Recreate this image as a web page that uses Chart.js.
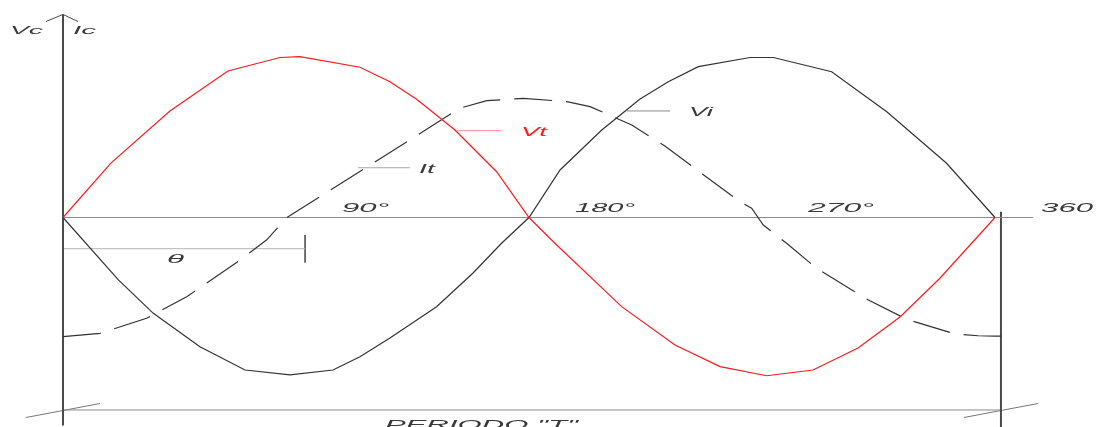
<!DOCTYPE html>
<html>
<head>
<meta charset="utf-8">
<script src="https://cdn.jsdelivr.net/npm/chart.js"></script>
<style>
  html, body { margin: 0; padding: 0; background: #fff; }
  canvas { display: block; }
</style>
</head>
<body>
<canvas id="waveChart" width="1096" height="427"></canvas>
<script>
// Wave data: angle in degrees, amplitude (peak of Vt = 1)
const vtDegrees = [0, 18.5, 41.3, 63.7, 83.8, 91.5, 114.7, 126.3, 136.6, 151.4, 167.5, 180, 190, 215.8, 236.4, 253.8, 271.8, 289.7, 307.1, 323.3, 338.8, 360];
const vtValues = [0, 0.34, 0.666, 0.916, 1.0, 1.005, 0.939, 0.849, 0.739, 0.547, 0.286, 0, -0.161, -0.557, -0.797, -0.932, -0.989, -0.953, -0.816, -0.622, -0.378, 0];

const viDegrees = [0, 21.4, 34.9, 52.9, 70.3, 87.7, 104.3, 114.7, 126.3, 144.3, 158.4, 169.4, 180, 192, 208.1, 222.9, 233.8, 245.4, 265.4, 274.4, 296.9, 318.2, 341.3, 360];
const viValues = [0, -0.39, -0.599, -0.808, -0.953, -0.984, -0.953, -0.87, -0.753, -0.558, -0.347, -0.161, 0, 0.297, 0.547, 0.741, 0.849, 0.943, 1.0, 1.0, 0.911, 0.661, 0.339, 0];

const itDegrees = [0, 14.3, 32.3, 47.8, 68.4, 78.6, 86.5, 153.3, 163.7, 177.8, 194.6, 203.6, 219.7, 232.5, 251.8, 262.1, 266, 270.5, 279.5, 291.1, 311.1, 325.9, 344.5, 353.5, 360, 362.3];
const itValues = [-0.745, -0.724, -0.63, -0.495, -0.266, -0.141, 0, 0.683, 0.73, 0.745, 0.724, 0.693, 0.578, 0.447, 0.214, 0.092, 0.058, -0.047, -0.161, -0.318, -0.516, -0.636, -0.728, -0.739, -0.741, -0.741];

const tickDegrees = [90, 180, 270, 360];
const tickLabels = ['90°', '180°', '270°', '360'];
const axisTitles = ['Vc', 'Ic'];
const seriesNames = ['Vt', 'It', 'Vi'];
const thetaLabel = 'θ';
const periodLabel = 'PERIODO "T"';

// Scale window so that 0..360 deg spans x=63..995 and one unit = 160 px
const pxPerDeg = 932 / 360;
const xMin = -63 / pxPerDeg;
const xMax = xMin + 1096 / pxPerDeg;
const yMax = 217.5 / 160;
const yMin = yMax - 427 / 160;

const toPoints = (xs, ys) => xs.map((x, i) => ({ x: x, y: ys[i] }));

function guide(points, color, width, dash) {
    return {
        data: points,
        showLine: true,
        borderColor: color,
        borderWidth: width,
        borderDash: dash || [],
        pointRadius: 0,
        fill: false,
        tension: 0
    };
}

// Text drawn in data units, squeezed/stretched to the width seen in the drawing
const labelPlugin = {
    id: 'cadLabels',
    afterDatasetsDraw(chart) {
        const ctx = chart.ctx;
        const sx = chart.scales.x;
        const sy = chart.scales.y;

        const put = (text, deg, val, width, color, size) => {
            const px = sx.getPixelForValue(deg);
            const py = sy.getPixelForValue(val);
            ctx.save();
            ctx.font = 'italic ' + size + 'px "Liberation Sans", Arial, sans-serif';
            ctx.fillStyle = color;
            ctx.textBaseline = 'alphabetic';
            const w = ctx.measureText(text).width;
            ctx.translate(px, py);
            ctx.scale(width / w, 1);
            ctx.fillText(text, 0, 0);
            ctx.restore();
        };

        const dark = '#3a3a3a';
        put(axisTitles[0], -20.5, 1.147, 33, dark, 11);
        put(axisTitles[1], 3.9, 1.147, 23, dark, 11);

        const tickWidths = [47, 60, 66, 52];
        tickLabels.forEach((t, i) => {
            put(t, tickDegrees[i] + 17.8, 0.034, tickWidths[i], dark, 12);
        });

        put(seriesNames[0], 176.9, 0.509, 26, '#ff1a1a', 12);
        put(seriesNames[1], 137.5, 0.278, 16, dark, 12);
        put(seriesNames[2], 241.8, 0.634, 24, dark, 12);
        put(thetaLabel, 40.2, -0.284, 17, dark, 12);
        put(periodLabel, 124.4, -1.322, 193, dark, 12);
    }
};

const ctx = document.getElementById('waveChart');

new Chart(ctx, {
    type: 'scatter',
    data: {
        datasets: [
            // curves
            guide(toPoints(vtDegrees, vtValues), '#ff1a1a', 1.2),
            guide(toPoints(viDegrees, viValues), '#333333', 1.2),
            guide(toPoints(itDegrees, itValues), '#333333', 1.2, [38, 14]),
            // baseline and frame
            guide([{ x: 0, y: 0 }, { x: 374.7, y: 0 }], '#8a8a8a', 1),
            guide([{ x: 0, y: 1.269 }, { x: 0, y: -1.3 }], '#4a4a4a', 2),
            guide([{ x: -6.6, y: 1.225 }, { x: 0, y: 1.269 }, { x: 5.8, y: 1.225 }], '#4a4a4a', 1),
            guide([{ x: 362.3, y: 0.036 }, { x: 362.3, y: -1.32 }], '#4a4a4a', 2),
            guide([{ x: 0, y: -1.203 }, { x: 362.3, y: -1.203 }], '#8a8a8a', 1),
            guide([{ x: -14.3, y: -1.25 }, { x: 14.3, y: -1.1625 }], '#777777', 1),
            guide([{ x: 348.0, y: -1.25 }, { x: 376.6, y: -1.1625 }], '#777777', 1),
            // phase angle marker
            guide([{ x: 0, y: -0.195 }, { x: 93.5, y: -0.195 }], '#b5b5b5', 1),
            guide([{ x: 93.5, y: -0.109 }, { x: 93.5, y: -0.283 }], '#444444', 1.5),
            // leaders
            guide([{ x: 152.1, y: 0.5425 }, { x: 169.4, y: 0.5425 }], '#ff8a8a', 1),
            guide([{ x: 113.9, y: 0.311 }, { x: 134.1, y: 0.311 }], '#a8a8a8', 1),
            guide([{ x: 217.7, y: 0.666 }, { x: 234.5, y: 0.666 }], '#8a8a8a', 1)
        ]
    },
    options: {
        responsive: false,
        animation: false,
        layout: { padding: 0 },
        plugins: {
            legend: { display: false },
            tooltip: { enabled: false }
        },
        scales: {
            x: { type: 'linear', min: xMin, max: xMax, display: false },
            y: { type: 'linear', min: yMin, max: yMax, display: false }
        }
    },
    plugins: [labelPlugin]
});
</script>
</body>
</html>
